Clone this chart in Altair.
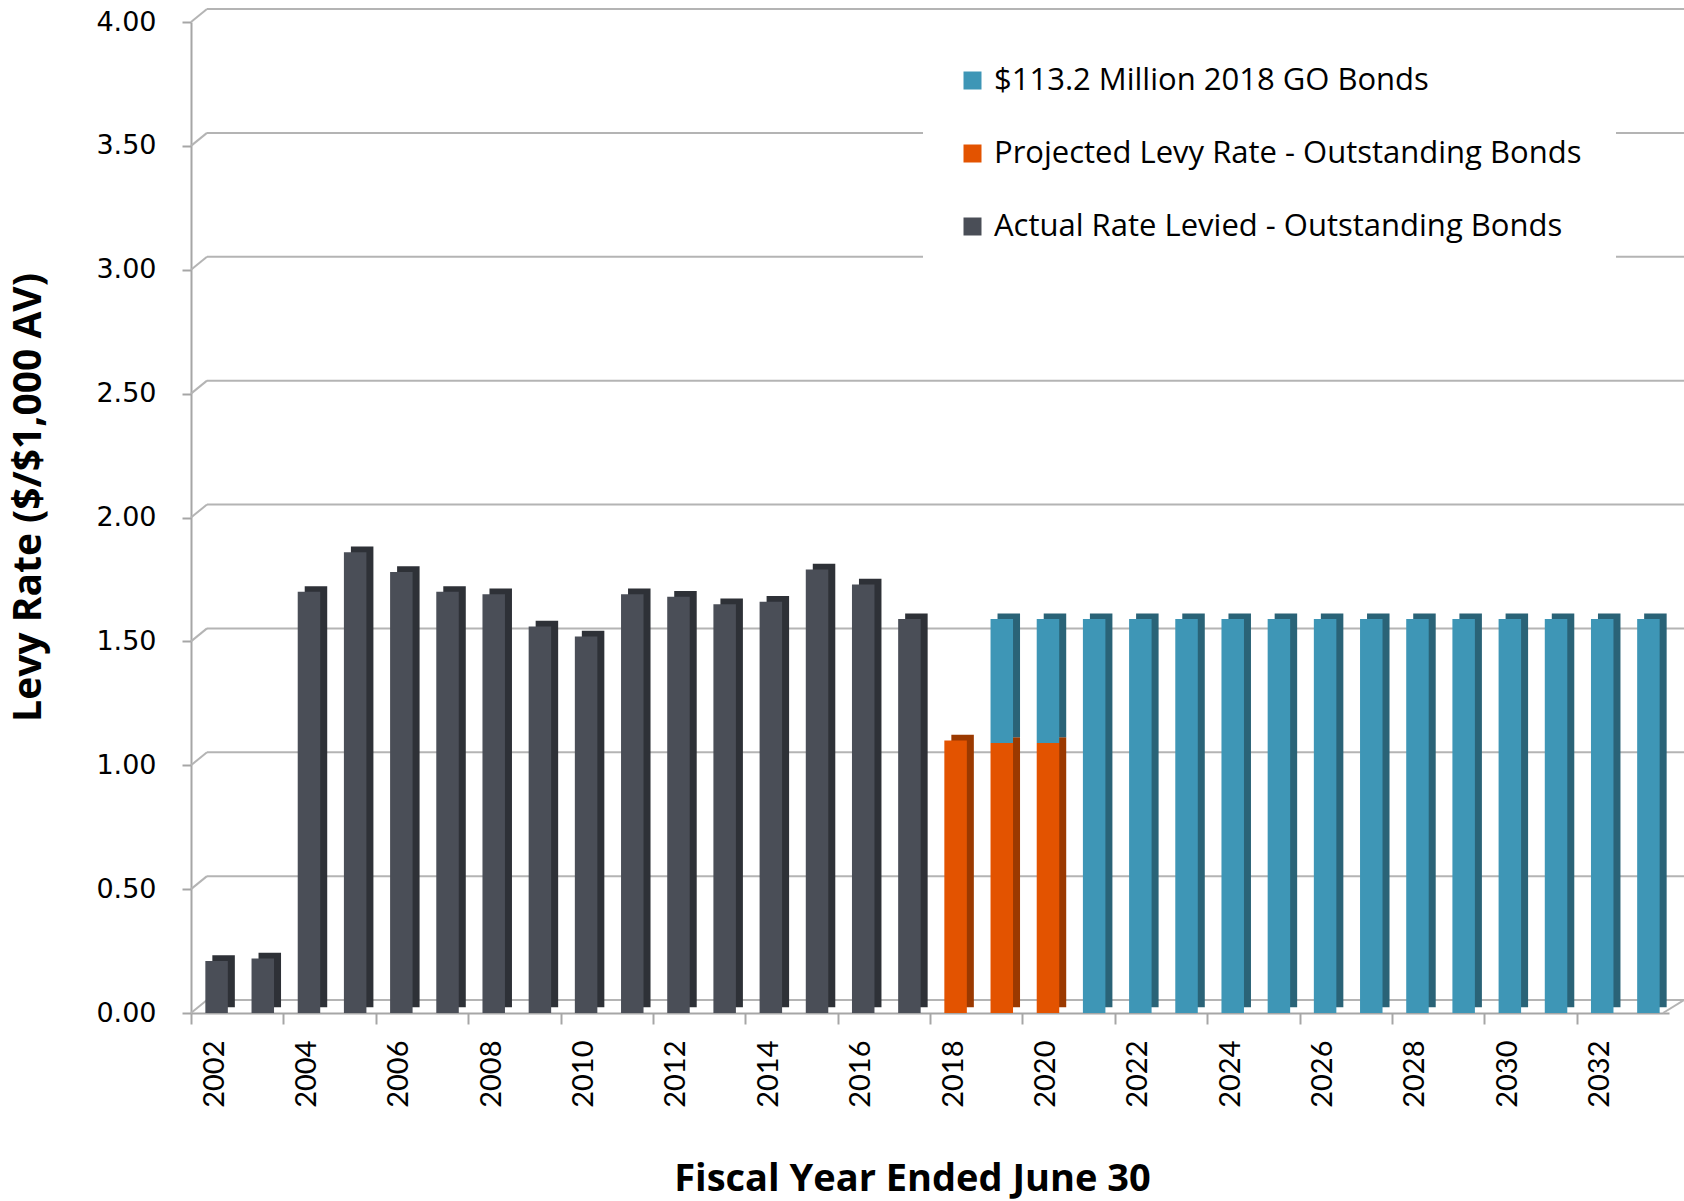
import altair as alt
import pandas as pd

# ---- data ----
actual_years = [2002, 2003, 2004, 2005, 2006, 2007, 2008, 2009, 2010,
                2011, 2012, 2013, 2014, 2015, 2016, 2017]
actual_rate = [0.21, 0.22, 1.70, 1.86, 1.78, 1.70, 1.69, 1.56, 1.52,
               1.69, 1.68, 1.65, 1.66, 1.79, 1.73, 1.59]

projected_years = [2018, 2019, 2020]
projected_rate = [1.10, 1.09, 1.09]

new_years = [2018, 2019, 2020, 2021, 2022, 2023, 2024, 2025, 2026,
             2027, 2028, 2029, 2030, 2031, 2032, 2033]
new_rate = [0.00, 0.50, 0.50, 1.59, 1.59, 1.59, 1.59, 1.59, 1.59,
            1.59, 1.59, 1.59, 1.59, 1.59, 1.59, 1.59]

all_years = list(range(2002, 2034))
label_years = [2002, 2004, 2006, 2008, 2010, 2012, 2014, 2016,
               2018, 2020, 2022, 2024, 2026, 2028, 2030, 2032]
grid_values = [0.0, 0.5, 1.0, 1.5, 2.0, 2.5, 3.0, 3.5, 4.0]

S_NEW = "$113.2 Million 2018 GO Bonds"
S_PROJ = "Projected Levy Rate - Outstanding Bonds"
S_ACT = "Actual Rate Levied - Outstanding Bonds"
series_order = [S_NEW, S_PROJ, S_ACT]
front_colors = ["#3e96b6", "#e35300", "#4a4e57"]
side_colors = ["#2a6377", "#9b3900", "#2e3137"]

rows = []
for y, v in zip(actual_years, actual_rate):
    rows.append({"year": y, "series": S_ACT, "value": v, "ord": 0})
for y, v in zip(projected_years, projected_rate):
    rows.append({"year": y, "series": S_PROJ, "value": v, "ord": 0})
for y, v in zip(new_years, new_rate):
    rows.append({"year": y, "series": S_NEW, "value": v, "ord": 1})
bars_df = pd.DataFrame(rows)
grid_df = pd.DataFrame({"value": grid_values})
floor_df = pd.DataFrame({"value": [0.0]})

# ---- layout ----
W, H = 1478, 991
PAD_L, PAD_T = 191, 22
PAD_R = 1684 - PAD_L - W
PAD_B = 1201 - PAD_T - H
DEPTH_X, DEPTH_Y = 16, 13
BAND = W / len(all_years)
GRID = "#b4b4b4"
AXIS = "#a6a6a6"

y_scale = alt.Scale(domain=[0, 4], nice=False, zero=True)
x_scale = alt.Scale(domain=all_years, paddingInner=0, paddingOuter=0)

y_axis = alt.Axis(
    values=grid_values, format=".2f", grid=False,
    title="Levy Rate ($/$1,000 AV)",
    domainColor=AXIS, domainWidth=2, tickColor=AXIS, tickWidth=2, tickSize=9,
    labelPadding=26, labelFont="DejaVu Sans", labelFontSize=27, labelColor="#000000",
    titleFont="Open Sans", titleFontSize=39, titleFontWeight="bold", titleColor="#000000",
    titleAngle=-90, titleX=-151, titleY=475, titleBaseline="alphabetic",
)
x_axis = alt.Axis(
    values=label_years, labelAngle=-90, grid=False,
    title="Fiscal Year Ended June 30",
    domainColor=AXIS, domainWidth=2, tickColor=AXIS, tickWidth=2, tickSize=11,
    tickOffset=-BAND / 2, labelOffset=BAND / 2,
    labelPadding=16, labelFont="Lato", labelFontSize=29, labelColor="#000000",
    titleFont="Open Sans", titleFontSize=38, titleFontWeight="bold", titleColor="#000000",
    titleX=721, titleY=177, titleBaseline="alphabetic",
)

def y_enc():
    return alt.Y("value:Q", scale=y_scale, axis=y_axis, stack="zero")

grid_h = alt.Chart(grid_df).mark_rule(color=GRID, strokeWidth=2, yOffset=-DEPTH_Y).encode(
    y=alt.Y("value:Q", scale=y_scale, axis=y_axis),
    x=alt.value(DEPTH_X), x2=alt.value(W + PAD_R),
)
grid_d = alt.Chart(grid_df).mark_rule(color=GRID, strokeWidth=2, y2Offset=-DEPTH_Y).encode(
    y=alt.Y("value:Q", scale=y_scale, axis=y_axis), y2=alt.Y2("value:Q"),
    x=alt.value(0), x2=alt.value(DEPTH_X),
)
floor_d = alt.Chart(floor_df).mark_rule(color=GRID, strokeWidth=2, y2Offset=-DEPTH_Y).encode(
    y=alt.Y("value:Q", scale=y_scale, axis=y_axis), y2=alt.Y2("value:Q"),
    x=alt.value(W - 6), x2=alt.value(W + PAD_R),
)

back = alt.Chart(bars_df).mark_bar(
    width=22.5, xOffset=9.5, yOffset=-5.7, y2Offset=-5.7
).encode(
    x=alt.X("year:O", scale=x_scale, axis=x_axis),
    y=y_enc(),
    color=alt.Color("series:N", scale=alt.Scale(domain=series_order, range=side_colors), legend=None),
    order=alt.Order("ord:Q"),
)
front = alt.Chart(bars_df).mark_bar(width=22.5, xOffset=2.5).encode(
    x=alt.X("year:O", scale=x_scale, axis=x_axis),
    y=y_enc(),
    color=alt.Color(
        "series:N",
        scale=alt.Scale(domain=series_order, range=front_colors),
        legend=alt.Legend(
            orient="none", legendX=766 - 34, legendY=43 - 34, padding=34,
            fillColor="white", title=None, symbolType="square", symbolSize=324,
            symbolStrokeWidth=0, labelFont="Open Sans", labelFontSize=31, labelColor="#000000",
            labelLimit=900, rowPadding=41, labelOffset=6,
        ),
    ),
    order=alt.Order("ord:Q"),
)

chart = alt.layer(grid_h, grid_d, floor_d, back, front).resolve_scale(
    color="independent"
).properties(
    width=W, height=H,
    autosize=alt.AutoSizeParams(type="none"),
    padding={"left": PAD_L, "top": PAD_T, "right": PAD_R, "bottom": PAD_B},
    background="white",
).configure_view(stroke=None)

chart.save("out.html", embed_options={"renderer": "svg", "actions": False})
